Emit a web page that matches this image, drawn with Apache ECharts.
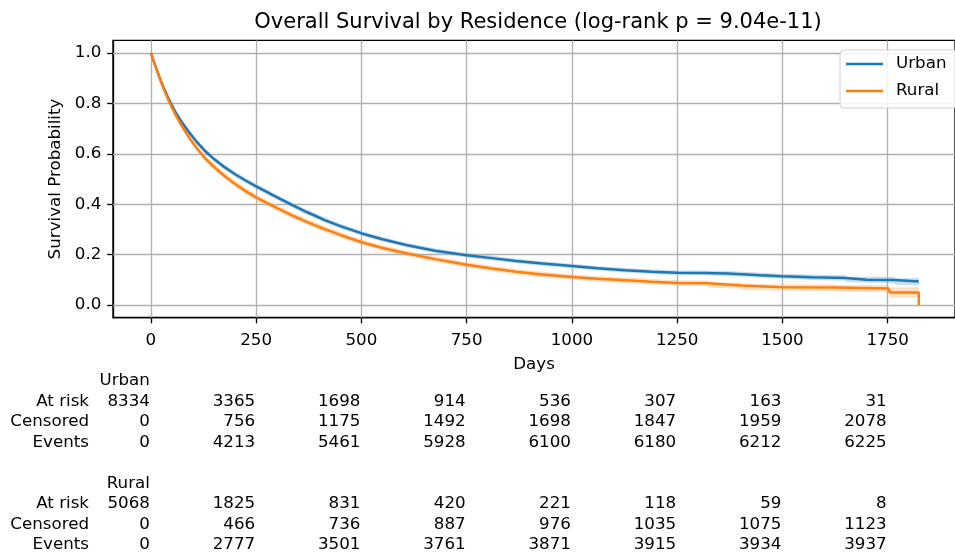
<!DOCTYPE html>
<html>
<head>
<meta charset="utf-8">
<script src="https://cdn.jsdelivr.net/npm/echarts@6/dist/echarts.min.js"></script>
<style>
html,body{margin:0;padding:0;background:#fff;}
#main{width:955px;height:554px;}
</style>
</head>
<body>
<div id="main"></div>
<script>
// ---------- data ----------
const chartTitle = 'Overall Survival by Residence (log-rank p = 9.04e-11)';
const groupNames = ['Urban', 'Rural'];

const urbanDays = [0,10,20,30,40,50,60,75,90,110,130,150,175,200,225,250,275,300,334,370,413,450,501,550,609,675,750,810,868,930,1000,1060,1127,1190,1250,1315,1370,1448,1500,1570,1650,1653,1700,1766,1769,1824];
const urbanSurv = [1.000,0.952,0.906,0.864,0.826,0.792,0.761,0.722,0.687,0.645,0.609,0.579,0.547,0.519,0.494,0.471,0.449,0.427,0.398,0.369,0.337,0.313,0.284,0.261,0.237,0.215,0.197,0.186,0.175,0.165,0.155,0.146,0.138,0.132,0.128,0.127,0.125,0.118,0.114,0.110,0.107,0.102,0.100,0.099,0.093,0.093];
const urbanCiHalf = [0,0.004,0.006,0.007,0.008,0.008,0.009,0.009,0.010,0.010,0.010,0.010,0.010,0.010,0.010,0.010,0.010,0.010,0.010,0.010,0.010,0.010,0.009,0.009,0.009,0.009,0.009,0.009,0.009,0.009,0.009,0.009,0.009,0.009,0.009,0.009,0.010,0.010,0.010,0.011,0.011,0.011,0.012,0.013,0.013,0.014];

const ruralDays = [0,10,20,30,40,50,60,75,90,110,130,150,175,200,225,250,275,300,334,370,413,450,501,550,609,675,750,810,868,930,1000,1060,1127,1190,1250,1322,1325,1402,1405,1500,1627,1630,1752,1755,1824,1824];
const ruralSurv = [1.000,0.951,0.903,0.859,0.819,0.783,0.750,0.706,0.666,0.620,0.580,0.548,0.512,0.480,0.452,0.427,0.405,0.384,0.357,0.330,0.301,0.278,0.249,0.226,0.204,0.182,0.160,0.145,0.132,0.121,0.111,0.104,0.098,0.092,0.087,0.086,0.079,0.077,0.072,0.070,0.069,0.066,0.065,0.050,0.050,0.000];
const ruralCiHalf = [0,0.005,0.007,0.009,0.010,0.010,0.011,0.011,0.012,0.012,0.012,0.012,0.012,0.012,0.012,0.012,0.012,0.012,0.012,0.012,0.012,0.012,0.011,0.011,0.011,0.011,0.011,0.011,0.011,0.011,0.011,0.011,0.011,0.011,0.011,0.011,0.011,0.012,0.012,0.012,0.013,0.013,0.014,0.020,0.020,0.000];

const xTickValues = [0,250,500,750,1000,1250,1500,1750];
const yTickValues = [0,0.2,0.4,0.6,0.8,1.0];

const tableDays = [0,250,500,750,1000,1250,1500,1750];
const tableRowLabels = ['At risk','Censored','Events'];
const urbanAtRisk = [8334,3365,1698,914,536,307,163,31];
const urbanCensored = [0,756,1175,1492,1698,1847,1959,2078];
const urbanEvents = [0,4213,5461,5928,6100,6180,6212,6225];
const ruralAtRisk = [5068,1825,831,420,221,118,59,8];
const ruralCensored = [0,466,736,887,976,1035,1075,1123];
const ruralEvents = [0,2777,3501,3761,3871,3915,3934,3937];

// ---------- chart ----------
const FONT = 'DejaVu Sans';
const FS = 16.7;
const BLUE = '#1f77b4', ORANGE = '#ff7f0e';

function pairs(days, vals){ return days.map((d,i)=>[d, vals[i]]); }

function bandSeries(days, surv, half, fill){
  return {
    type: 'custom',
    silent: true,
    z: 1,
    data: [[days[0], surv[0]]],
    renderItem: function(params, api){
      const up = [], lo = [];
      for (let i = 0; i < days.length; i++) {
        up.push(api.coord([days[i], surv[i] + half[i]]));
        lo.push(api.coord([days[i], surv[i] - half[i]]));
      }
      return { type: 'polygon', shape: { points: up.concat(lo.reverse()) }, style: { fill: fill } };
    }
  };
}

const chart = echarts.init(document.getElementById('main'), null, {renderer: 'canvas'});

const gridLineStyle = { color: '#b0b0b0', width: 1.33, type: 'solid' };

chart.setOption({
  animation: false,
  backgroundColor: '#fff',
  grid: { left: 113, top: 40.4, width: 849.6, height: 277.2, show: true, borderColor: '#000', borderWidth: 1.33, backgroundColor: 'transparent' },
  legend: {
    data: groupNames,
    orient: 'vertical',
    left: 840, top: 50,
    padding: [4, 10, 7, 6],
    itemGap: 7,
    itemWidth: 37, itemHeight: 2.5,
    icon: 'rect',
    selectedMode: false,
    backgroundColor: 'rgba(255,255,255,0.85)',
    borderColor: '#d0d0d0', borderWidth: 1, borderRadius: 4,
    textStyle: { fontFamily: FONT, fontSize: FS, color: '#000', lineHeight: 20, padding: [0,0,0,8] }
  },
  xAxis: {
    type: 'value', min: -90, max: 1910,
    splitLine: { show: false },
    axisLine: { show: true, onZero: false, lineStyle: { color: '#000', width: 1.33 } },
    axisTick: { show: true, length: 5.8, customValues: xTickValues, lineStyle: { color: '#000', width: 1.33 } },
    axisLabel: { customValues: xTickValues, margin: 14.5, fontFamily: FONT, fontSize: FS, color: '#000', formatter: v => String(v) },
    name: 'Days', nameLocation: 'middle', nameGap: 39,
    nameTextStyle: { fontFamily: FONT, fontSize: FS, color: '#000' }
  },
  yAxis: {
    type: 'value', min: -0.05, max: 1.05,
    splitLine: { show: false },
    axisLine: { show: true, onZero: false, lineStyle: { color: '#000', width: 1.33 } },
    axisTick: { show: true, length: 5.8, customValues: yTickValues, lineStyle: { color: '#000', width: 1.33 } },
    axisLabel: { customValues: yTickValues, margin: 11.6, fontFamily: FONT, fontSize: FS, color: '#000', formatter: v => v.toFixed(1) },
    name: 'Survival Probability', nameLocation: 'middle', nameGap: 48,
    nameTextStyle: { fontFamily: FONT, fontSize: FS, color: '#000' }
  },
  series: [
    bandSeries(urbanDays, urbanSurv, urbanCiHalf, 'rgba(31,119,180,0.25)'),
    bandSeries(ruralDays, ruralSurv, ruralCiHalf, 'rgba(255,127,14,0.25)'),
    {
      name: 'Urban', type: 'line', data: pairs(urbanDays, urbanSurv),
      showSymbol: false, symbol: 'none', z: 3, color: BLUE,
      lineStyle: { color: BLUE, width: 2.5 },
      markLine: {
        silent: true, symbol: 'none', z: 1.5, animation: false,
        label: { show: false }, lineStyle: gridLineStyle,
        data: xTickValues.map(v => ({ xAxis: v })).concat(yTickValues.map(v => ({ yAxis: v })))
      }
    },
    {
      name: 'Rural', type: 'line', data: pairs(ruralDays, ruralSurv),
      showSymbol: false, symbol: 'none', z: 3, color: ORANGE,
      lineStyle: { color: ORANGE, width: 2.5 }
    }
  ]
});

// ---------- title and at-risk table ----------
const graphics = [];
graphics.push({ type: 'text', x: 538, y: 23, style: { text: chartTitle, font: '21px "' + FONT + '"', fill: '#000', align: 'center', verticalAlign: 'middle' } });

function addText(txt, x, y, align){
  graphics.push({ type: 'text', x: x, y: y, style: { text: String(txt), font: FS + 'px "' + FONT + '"', fill: '#000', align: align, verticalAlign: 'middle' } });
}

const groups = [
  { name: groupNames[0], rows: [urbanAtRisk, urbanCensored, urbanEvents], y0: 381 },
  { name: groupNames[1], rows: [ruralAtRisk, ruralCensored, ruralEvents], y0: 483.5 }
];
const colX = tableDays.map(d => chart.convertToPixel({ xAxisIndex: 0 }, d) - 1);
const rowStep = 20.5;
groups.forEach(g => {
  addText(g.name, colX[0], g.y0, 'right');
  g.rows.forEach((row, r) => {
    const y = g.y0 + rowStep * (r + 1);
    addText(tableRowLabels[r], 89, y, 'right');
    row.forEach((v, c) => addText(v, colX[c], y, 'right'));
  });
});
chart.setOption({ graphic: graphics });
</script>
</body>
</html>
